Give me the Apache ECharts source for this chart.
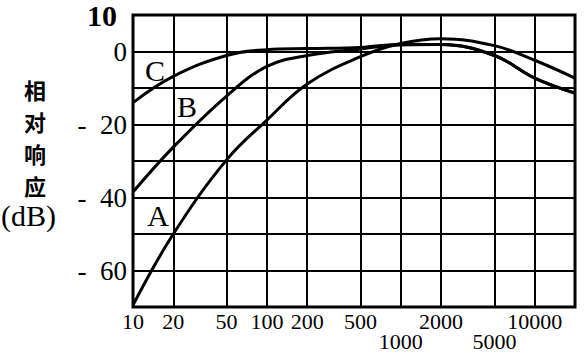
<!DOCTYPE html>
<html>
<head>
<meta charset="utf-8">
<script src="https://cdn.jsdelivr.net/npm/echarts@6/dist/echarts.min.js"></script>
<style>
  html, body { margin: 0; padding: 0; background: #fff; }
  #chart { width: 585px; height: 354px; }
</style>
</head>
<body>
<div id="chart"></div>
<script>
// 频率 (Hz)
var freqs = [10, 20, 50, 100, 200, 500, 1000, 2000, 5000, 10000, 20000];
// 计权曲线 (dB)
var curveA = [-69.5, -50, -29.7, -18.8, -8.9, -1.4, 2.2, 3.5, 1.6, -2.4, -7.3];
var curveB = [-38.5, -26.2, -12.2, -4.1, -1.1, 0.7, 1.8, 1.9, -1.1, -7.3, -11.4];
var curveC = [-14.0, -6.8, -1.1, 0.5, 0.8, 1.1, 2.0, 1.9, -1.1, -7.3, -11.4];
// 刻度
var xTicks = [10, 20, 50, 100, 200, 500, 1000, 2000, 5000, 10000, 20000];
var xLabels = [10, 20, 50, 100, 200, 500, 2000, 10000];
var lowLabels = [1000, 5000];
// 曲线名称位置 [频率, dB]
var nameA = [15.4, -44.9];
var nameB = [25.3, -15.1];
var nameC = [14.6, -5.1];

var serif = 'Liberation Serif';

function pairs(ys) {
    return freqs.map(function (f, i) { return [f, ys[i]]; });
}

function makeSeries(name, ys, pos) {
    return {
        name: name,
        type: 'line',
        data: pairs(ys),
        smooth: 0.4,
        symbol: 'none',
        lineStyle: { color: '#000', width: 3 },
        markPoint: {
            symbol: 'circle',
            symbolSize: 0,
            label: {
                show: true,
                formatter: name,
                color: '#000',
                fontFamily: serif,
                fontSize: 30
            },
            data: [{ coord: pos }]
        }
    };
}

// x轴标签：上下两排
function xAxisRow(labels, offset, withGrid) {
    return {
        type: 'log',
        min: 10,
        max: 20000,
        position: 'bottom',
        offset: offset,
        axisLine: { show: false },
        axisTick: { show: false, customValues: xTicks },
        splitLine: { show: withGrid, lineStyle: { color: '#000', width: 2 } },
        axisLabel: {
            customValues: labels,
            hideOverlap: false,
            margin: 3,
            color: '#000',
            fontFamily: serif,
            fontSize: 22,
            formatter: function (v) { return String(Math.round(v)); }
        }
    };
}

var myChart = echarts.init(document.getElementById('chart'), null, { renderer: 'svg' });
var option = {
    backgroundColor: '#fff',
    animation: false,
    title: {
        text: '相\n对\n响\n应',
        left: 24,
        top: 73,
        padding: 0,
        textStyle: {
            fontFamily: 'Noto Sans CJK SC',
            fontWeight: 'bold',
            fontSize: 22,
            lineHeight: 32,
            color: '#000'
        }
    },
    graphic: [{
        type: 'text',
        left: 1,
        top: 200,
        style: {
            text: '(dB)',
            font: '30px "Liberation Serif"',
            fill: '#000'
        }
    }],
    grid: {
        left: 133,
        top: 11,
        width: 442,
        height: 296,
        show: true,
        borderColor: '#000',
        borderWidth: 3
    },
    xAxis: [
        xAxisRow(xLabels, 0, true),
        xAxisRow(lowLabels, 20, false)
    ],
    yAxis: {
        type: 'value',
        min: -70,
        max: 10,
        interval: 10,
        axisLine: { show: false },
        axisTick: { show: false },
        splitLine: { show: true, lineStyle: { color: '#000', width: 2 } },
        axisLabel: {
            margin: 6,
            color: '#000',
            fontFamily: serif,
            fontSize: 27,
            formatter: function (v) {
                if (v === 10) return '{b|10}';
                if (v % 20 !== 0) return '';
                return v < 0 ? '-  ' + (-v) : String(v);
            },
            rich: {
                b: { fontFamily: serif, fontSize: 30, fontWeight: 'bold', color: '#000', padding: [0, 10, 0, 0] }
            }
        }
    },
    series: [
        makeSeries('A', curveA, nameA),
        makeSeries('B', curveB, nameB),
        makeSeries('C', curveC, nameC)
    ]
};
myChart.setOption(option);
</script>
</body>
</html>
